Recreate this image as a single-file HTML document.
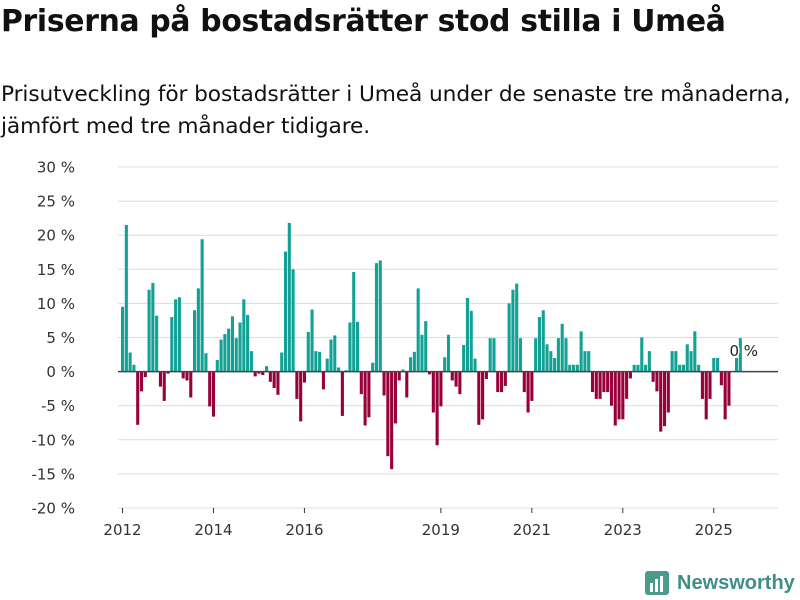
<!DOCTYPE html>
<html><head><meta charset="utf-8">
<style>
body{margin:0;width:800px;height:600px;background:#fff;font-family:"DejaVu Sans","Liberation Sans",sans-serif;overflow:hidden;position:relative;color:#111}
#title{position:absolute;left:1px;top:4px;font-size:29.8px;font-weight:bold;margin:0;letter-spacing:-0.3px;white-space:nowrap}
#sub{position:absolute;left:1px;top:79px;font-size:21.7px;line-height:32px;width:799px;white-space:nowrap;letter-spacing:-0.1px}
svg{position:absolute;left:0;top:0}
</style></head><body>
<h1 id="title">Priserna på bostadsrätter stod stilla i Umeå</h1>
<div id="sub">Prisutveckling för bostadsrätter i Umeå under de senaste tre månaderna,<br>jämfört med tre månader tidigare.</div>
<svg id="chart" width="800" height="600"></svg>
<div style="position:absolute;left:645px;top:569px;display:flex;align-items:center">
<svg width="24" height="28" style="position:static"><rect x="0" y="2" width="24" height="24" rx="3" fill="#4a9a8e"/><rect x="5" y="14" width="3" height="9" fill="#fff"/><rect x="10" y="10" width="3" height="13" fill="#fff"/><rect x="15" y="7" width="3" height="16" fill="#fff"/></svg>
<span style="margin-left:8px;font-weight:bold;color:#3f8f84;font-family:'Liberation Sans',sans-serif;font-size:20px">Newsworthy</span></div>
<script>
const startYear = 2012;
const values = [
9.5,21.5,2.8,1,-7.8,-2.9,-0.8,12,13,8.2,-2.2,-4.3,
-0.3,8,10.6,10.9,-1,-1.3,-3.8,9,12.2,19.4,2.7,-5.1,
-6.6,1.7,4.7,5.5,6.3,8.1,4.9,7.2,10.6,8.3,3,-0.7,
-0.3,-0.5,0.8,-1.5,-2.4,-3.4,2.8,17.6,21.8,15,-4,-7.3,
-1.6,5.8,9.1,3,2.9,-2.6,1.9,4.7,5.3,0.6,-6.5,0.2,
7.2,14.6,7.3,-3.3,-7.9,-6.7,1.3,15.9,16.3,-3.5,-12.4,-14.3,
-7.6,-1.3,0.3,-3.8,2.1,2.9,12.2,5.4,7.4,-0.4,-6,-10.8,
-5.1,2.1,5.4,-1.3,-2.2,-3.3,3.9,10.8,8.9,1.9,-7.8,-7,
-1.1,4.9,4.9,-3,-3,-2.1,10,12,12.9,4.9,-3,-6,
-4.3,4.9,8,9,4,3,2,4.9,7,4.9,1,1,
1,5.9,3,3,-3,-4,-4,-3,-3,-5,-7.9,-7,
-7,-4,-1,1,1,5,1,3,-1.5,-2.9,-8.8,-8,
-6,3,3,1,1,4,3,5.9,1,-4,-7,-4,
2,2,-2,-7,-5,0,2,4.9
];
const yTicks = [30,25,20,15,10,5,0,-5,-10,-15,-20];
const xTickYears = [2012,2014,2016,2019,2021,2023,2025];
const annotation = "0 %";

const svg = document.getElementById('chart');
const NS = 'http://www.w3.org/2000/svg';
function y(v){return 371.6 - v*6.82;}
function x(i){return 121 + i*3.79;}
function mk(t,a){const e=document.createElementNS(NS,t);for(const k in a)e.setAttribute(k,a[k]);svg.appendChild(e);return e;}
yTicks.forEach(t=>{
  const g=mk('line',{x1:118,x2:778,y1:y(t),y2:y(t),stroke:'#dcdcdc','stroke-width':1});
  
  
  const l=mk('text',{x:75,y:y(t)+5.5,'text-anchor':'end','font-size':15,fill:'#333'});
  l.textContent=t+' %';
  
  
});
xTickYears.forEach(yr=>{
  const i=(yr-startYear)*12;
  const tk=mk('line',{x1:x(i)+1.5,x2:x(i)+1.5,y1:508,y2:513,stroke:'#333'});
  
  
  const l=mk('text',{x:x(i)+1.5,y:535,'text-anchor':'middle','font-size':15,fill:'#333'});
  l.textContent=yr;
  
  
});
values.forEach((v,i)=>{
  const r=mk('rect',{x:x(i),y:Math.min(y(v),y(0)),width:3.1,height:Math.abs(y(v)-y(0)),fill:v>=0?'#13a195':'#98003a'});
  
  
});
const z=mk('line',{x1:118,x2:778,y1:y(0),y2:y(0),stroke:'#444','stroke-width':1.5});


const a=mk('text',{x:x(values.length-1)+5,y:356,'text-anchor':'middle','font-size':15,fill:'#222',stroke:'#fff','stroke-width':3,'paint-order':'stroke'});
a.textContent=annotation;


</script>
</body></html>
